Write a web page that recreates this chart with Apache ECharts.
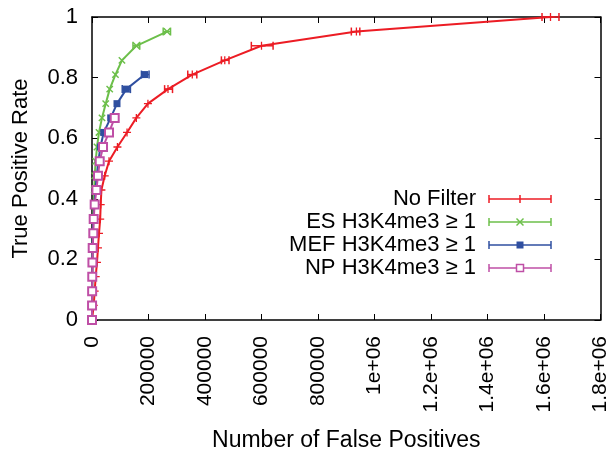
<!DOCTYPE html>
<html><head><meta charset="utf-8">
<script src="https://cdn.jsdelivr.net/npm/echarts@6/dist/echarts.min.js"></script>
<style>html,body{margin:0;padding:0;background:#fff}#c{width:611px;height:457px}</style>
</head><body><div id="c"></div><script>
// True positive rate levels (shared by all series)
const tpr = [0, 0.048, 0.095, 0.143, 0.190, 0.238, 0.286, 0.333, 0.381, 0.429, 0.476,
  0.524, 0.571, 0.619, 0.667, 0.714, 0.762, 0.810, 0.857, 0.905, 0.952, 1.0];
const seriesNames = ['No Filter', 'ES H3K4me3 \u2265 1', 'MEF H3K4me3 \u2265 1', 'NP H3K4me3 \u2265 1'];
const seriesColors = ['#ec1c24', '#6cbf4a', '#2f4fa0', '#bf4fa6'];
// Number of false positives per level
const noFilterFP = [0, 6000, 9500, 13100, 17700, 21200, 24800, 29000, 30800, 33300, 45000,
  60200, 90000, 124000, 157000, 198000, 269000, 355000, 470000, 600000, 936000, 1623000];
const esFP = [0, 300, 700, 1200, 1800, 2500, 3500, 4500, 6000, 8000, 9500,
  13100, 17700, 24800, 35400, 48500, 62700, 83000, 106000, 157000, 265500];
const mefFP = [0, 200, 600, 1000, 1500, 2000, 3000, 4500, 8500, 12000, 16600,
  22600, 29700, 41400, 66200, 88500, 121700, 186600];
const npFP = [0, 200, 500, 900, 1500, 2500, 4600, 6000, 9500, 15600, 21200,
  27300, 39000, 60200, 80400];
// Visible x error bars: [level index, low, high]
const noFilterErr = [[16, 257000, 285000], [17, 339000, 371000], [18, 458000, 485000],
  [19, 564000, 641000], [20, 918000, 948000], [21, 1593000, 1653000]];
const esErr = [[19, 145000, 169000], [20, 252000, 278000]];
const mefErr = [[16, 107000, 136000], [17, 175000, 202000]];
const npErr = [];
const xTickLabels = ['0', '200000', '400000', '600000', '800000', '1e+06', '1.2e+06', '1.4e+06', '1.6e+06', '1.8e+06'];
const yTickLabels = ['0', '0.2', '0.4', '0.6', '0.8', '1'];

const FONT = 'Liberation Sans, Arial, Helvetica, sans-serif';
const PLUS = 'path://M0,4.2L10,4.2L10,5.8L0,5.8Z M4.2,0L5.8,0L5.8,10L4.2,10Z';
const fps = [noFilterFP, esFP, mefFP, npFP];
const errs = [noFilterErr, esErr, mefErr, npErr];
const symbols = [
  {symbol: PLUS, symbolSize: 8, symbolRotate: 0},
  {symbol: PLUS, symbolSize: 9, symbolRotate: 45},
  {symbol: 'rect', symbolSize: 7, symbolRotate: 0},
  {symbol: 'emptyRect', symbolSize: 8, symbolRotate: 0}
];

function errRender(color) {
  return function (params, api) {
    const y = api.value(1);
    const p1 = api.coord([api.value(2), y]);
    const p2 = api.coord([api.value(3), y]);
    const h = 4;
    const st = {stroke: color, lineWidth: 1.5};
    return {type: 'group', children: [
      {type: 'line', shape: {x1: p1[0], y1: p1[1], x2: p2[0], y2: p2[1]}, style: st},
      {type: 'line', shape: {x1: p1[0], y1: p1[1] - h, x2: p1[0], y2: p1[1] + h}, style: st},
      {type: 'line', shape: {x1: p2[0], y1: p2[1] - h, x2: p2[0], y2: p2[1] + h}, style: st}
    ]};
  };
}

const series = [];
fps.forEach((fp, k) => {
  const c = seriesColors[k];
  series.push({
    name: seriesNames[k], type: 'line', xAxisIndex: 0, yAxisIndex: 0,
    data: fp.map((x, i) => [x, tpr[i]]),
    symbol: symbols[k].symbol, symbolSize: symbols[k].symbolSize, symbolRotate: symbols[k].symbolRotate,
    showAllSymbol: true,
    lineStyle: {color: c, width: 2},
    itemStyle: {color: c, borderColor: c, borderWidth: k === 3 ? 2.5 : 0, opacity: 1},
    z: 2 + k * 2, animation: false, silent: true
  });
  if (errs[k].length) {
    series.push({
      type: 'custom', xAxisIndex: 0, yAxisIndex: 0,
      renderItem: errRender(c),
      data: errs[k].map(([i, lo, hi]) => [fp[i], tpr[i], lo, hi]),
      encode: {x: 0, y: 1},
      z: 3 + k * 2, animation: false, silent: true
    });
  }
});

// Legend drawn as graphic (text right-aligned, error-bar sample to the right)
const legendRows = [199, 222, 245, 268];
const lx1 = 489, lx2 = 551, lxm = 520, tx = 476;
const graphics = [];
seriesNames.forEach((n, k) => {
  const y = legendRows[k], c = seriesColors[k];
  const st = {stroke: c, lineWidth: 1.5};
  graphics.push({type: 'text', x: tx, y: y, style: {text: n, x: 0, y: 0, align: 'right', verticalAlign: 'middle', font: '22px ' + FONT, fill: '#000'}});
  graphics.push({type: 'line', shape: {x1: lx1, y1: y, x2: lx2, y2: y}, style: st});
  graphics.push({type: 'line', shape: {x1: lx1, y1: y - 4, x2: lx1, y2: y + 4}, style: st});
  graphics.push({type: 'line', shape: {x1: lx2, y1: y - 4, x2: lx2, y2: y + 4}, style: st});
  if (k === 0) {
    graphics.push({type: 'line', shape: {x1: lxm, y1: y - 4, x2: lxm, y2: y + 4}, style: st});
  } else if (k === 1) {
    graphics.push({type: 'line', shape: {x1: lxm - 3.5, y1: y - 3.5, x2: lxm + 3.5, y2: y + 3.5}, style: st});
    graphics.push({type: 'line', shape: {x1: lxm - 3.5, y1: y + 3.5, x2: lxm + 3.5, y2: y - 3.5}, style: st});
  } else if (k === 2) {
    graphics.push({type: 'rect', shape: {x: lxm - 3.5, y: y - 3.5, width: 7, height: 7}, style: {fill: c}});
  } else {
    graphics.push({type: 'rect', shape: {x: lxm - 3.5, y: y - 3.5, width: 7, height: 7}, style: {fill: '#fff', stroke: c, lineWidth: 1.5}});
  }
});

const axisLine = {show: true, onZero: false, lineStyle: {color: '#000', width: 1.5}};
const axisTick = {show: true, inside: true, length: 6, lineStyle: {color: '#000', width: 1}};
const option = {
  backgroundColor: '#fff',
  animation: false,
  grid: {left: 92, right: 9, top: 17, bottom: 136, containLabel: false},
  xAxis: [{
    type: 'value', min: 0, max: 1800000, interval: 200000, position: 'bottom',
    axisLine: axisLine, axisTick: axisTick, splitLine: {show: false},
    axisLabel: {rotate: 90, margin: 16, fontSize: 21, color: '#000', fontFamily: FONT,
      showMinLabel: true, showMaxLabel: true, hideOverlap: false,
      formatter: v => xTickLabels[Math.round(v / 200000)]},
    name: 'Number of False Positives', nameLocation: 'middle', nameGap: 109,
    nameTextStyle: {fontSize: 23, color: '#000', fontFamily: FONT}
  }, {
    type: 'value', min: 0, max: 1800000, interval: 200000, position: 'top',
    axisLine: axisLine, axisTick: axisTick, splitLine: {show: false}, axisLabel: {show: false}
  }],
  yAxis: [{
    type: 'value', min: 0, max: 1, interval: 0.2, position: 'left',
    axisLine: axisLine, axisTick: axisTick, splitLine: {show: false},
    axisLabel: {margin: 14, fontSize: 22, color: '#000', fontFamily: FONT,
      showMinLabel: true, showMaxLabel: true,
      formatter: v => yTickLabels[Math.round(v / 0.2)]},
    name: 'True Positive Rate', nameLocation: 'middle', nameGap: 60,
    nameTextStyle: {fontSize: 22, color: '#000', fontFamily: FONT}
  }, {
    type: 'value', min: 0, max: 1, interval: 0.2, position: 'right',
    axisLine: axisLine, axisTick: axisTick, splitLine: {show: false}, axisLabel: {show: false}
  }],
  series: series,
  graphic: graphics
};
const chart = echarts.init(document.getElementById('c'), null, {renderer: 'canvas'});
chart.setOption(option);
</script></body></html>
